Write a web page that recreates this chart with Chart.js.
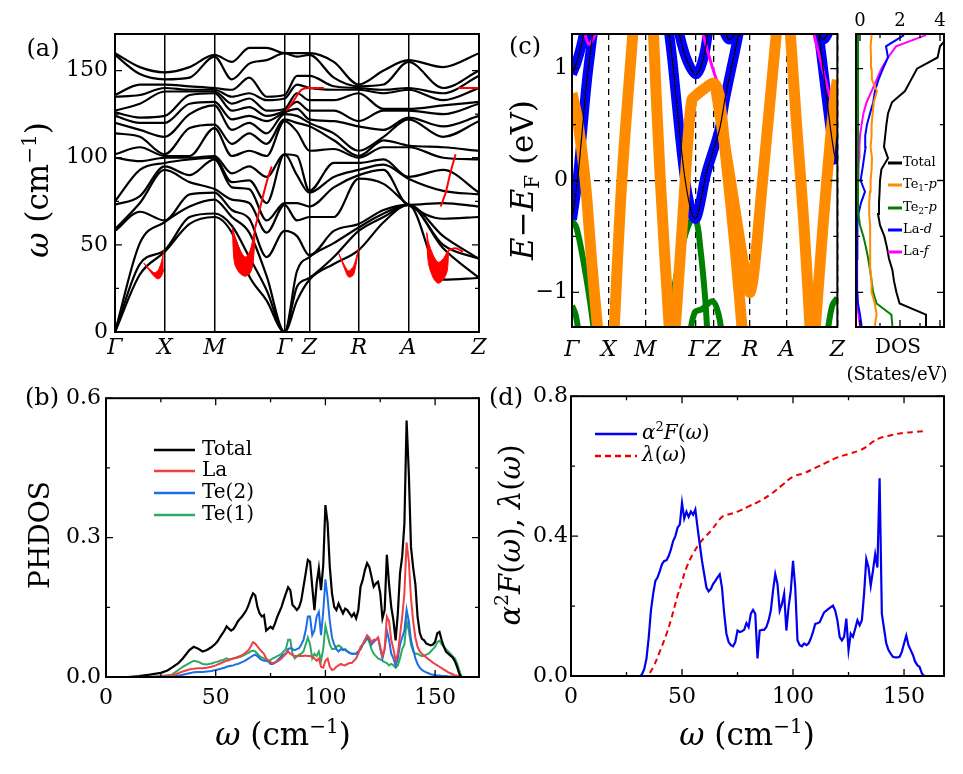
<!DOCTYPE html>
<html>
<head>
<meta charset="utf-8">
<script src="https://cdn.jsdelivr.net/npm/chart.js@4.4.1/dist/chart.umd.min.js"></script>
<style>
  body { margin: 0; background: #fff; width: 963px; height: 774px; position: relative; overflow: hidden; }
  canvas { position: absolute; }
</style>
</head>
<body>
<canvas id="pa" width="490" height="380" style="left:0;top:0"></canvas>
<canvas id="pc" width="375" height="390" style="left:480px;top:0"></canvas>
<canvas id="pdos" width="133" height="390" style="left:830px;top:0"></canvas>
<canvas id="pb" width="490" height="394" style="left:0;top:380px"></canvas>
<canvas id="pd" width="483" height="394" style="left:480px;top:380px"></canvas>
<script>
const SERIF = '"DejaVu Serif", "Liberation Serif", serif';

// (a) phonon dispersion, frequencies in cm^-1 read at these path positions
const kA = [0, 0.5, 1, 1.5, 2, 2.35, 2.7, 3.05, 3.41, 3.66, 3.91, 4.4, 4.9, 5.4, 5.9, 6.6, 7.32];
const kTicksA = [0, 1, 2, 3.41, 3.91, 4.9, 5.9, 7.32];
const kNames = ['Γ', 'X', 'M', 'Γ', 'Z', 'R', 'A', 'Z'];
const phononBranches = [
  [0, 33, 46, 62, 66, 57, 32, 18, 0, 18, 30, 39, 47, 63, 73, 30, 31],
  [0, 39, 47, 66, 68, 61, 43, 24, 0, 26, 31, 43, 58, 66, 73, 48, 31],
  [0, 51, 63, 72, 76, 66, 57, 32, 0, 35, 43, 51, 60, 68, 73, 50, 42],
  [58, 69, 64, 79, 80, 70, 65, 43, 58, 55, 44, 58, 62, 70, 73, 55, 42],
  [59, 74, 93, 86, 82, 76, 74, 57, 73, 64, 66, 66, 88, 85, 73, 65, 66],
  [73, 78, 95, 90, 99, 83, 82, 64, 74, 74, 72, 83, 90, 93, 73, 74, 72],
  [75, 93, 97, 99, 100, 86, 87, 74, 102, 90, 80, 89, 93, 96, 88, 81, 79],
  [100, 98, 100, 100, 101, 91, 95, 89, 102, 101, 81, 97, 97, 99, 89, 93, 80],
  [102, 106, 101, 101, 117, 101, 104, 101, 121, 115, 104, 105, 100, 106, 106, 100, 99],
  [114, 112, 102, 117, 119, 108, 114, 108, 122, 120, 118, 110, 101, 110, 107, 106, 104],
  [120, 116, 112, 125, 130, 116, 120, 114, 125, 124, 120, 114, 104, 112, 122, 112, 121],
  [124, 120, 120, 131, 132, 122, 124, 121, 126, 128, 122, 121, 118, 116, 123, 118, 124],
  [126, 123, 124, 136, 137, 127, 129, 124, 127, 132, 127, 127, 121, 127, 127, 125, 131],
  [127, 131, 138, 138, 138, 131, 134, 127, 128, 137, 133, 133, 137, 128, 128, 130, 132],
  [135, 136, 140, 139, 139, 135, 137, 133, 134, 142, 140, 139, 139, 137, 139, 133, 140],
  [136, 142, 142, 141, 140, 139, 146, 135, 136, 147, 147, 141, 140, 139, 140, 137, 147],
  [159, 148, 145, 146, 158, 145, 154, 156, 160, 158, 159, 146, 141, 142, 155, 140, 150],
  [160, 152, 149, 152, 159, 155, 163, 163, 160, 160, 160, 155, 142, 150, 156, 152, 160]
];
// red electron-phonon weights (soft-mode pockets)
const sail1K = [0.58, 0.7, 0.8, 0.88, 0.95, 0.98];
const sail1Lo = [39.5, 35, 31.5, 30.5, 33, 36];
const sail1Hi = [39.5, 36, 34, 36, 42, 47];
const sail2K = [2.36, 2.4, 2.5, 2.62, 2.72, 2.78, 2.82];
const sail2Lo = [60, 40, 34, 32, 34, 40, 60];
const sail2Hi = [60, 56, 48, 43, 47, 55, 60];
const sail3K = [4.5, 4.62, 4.7, 4.8, 4.9];
const sail3Lo = [45, 36, 31.5, 33, 48];
const sail3Hi = [45, 38, 35, 38, 48];
const sail4K = [6.27, 6.3, 6.4, 6.5, 6.6, 6.68, 6.71];
const sail4Lo = [57, 40, 31, 28, 30, 35, 47];
const sail4Hi = [57, 52, 44, 40, 42, 46, 47];
const redTraces = [
  [[3.45, 127], [3.6, 133], [3.75, 139], [3.91, 140], [4.2, 140]],
  [[6.9, 140], [7.1, 140], [7.32, 140]],
  [[6.71, 47], [6.85, 48], [7.0, 46]],
  [[2.82, 60], [2.95, 75], [3.06, 87], [3.15, 95]],
  [[6.55, 72], [6.65, 80], [6.75, 92], [6.85, 102]]
];

// (c) electronic fat bands, [k, E-EF in eV]
const kTicksC = [0, 1, 2, 3.38, 3.86, 4.86, 5.86, 7.24];
const orangeBands = [
  [[0, 0.78], [0.15, 0.55], [0.36, 0], [0.54, -0.74], [0.72, -1.4]],
  [[1.14, -1.4], [1.36, 0], [1.68, 1.4]],
  [[2.21, 1.4], [2.41, 0], [2.67, -1.4]],
  [[2.8, -1.4], [3.0, -0.45], [3.15, 0.3], [3.27, 0.72], [3.38, 0.76], [3.61, 0.82], [3.86, 0.87], [4.0, 0.78], [4.2, 0.2], [4.45, -0.6], [4.66, -1.4]],
  [[3.91, 0.85], [4.37, -0.1], [4.76, -0.9], [4.86, -1.0], [4.97, -0.8], [5.2, 0], [5.6, 1.4]],
  [[5.94, 1.4], [6.15, 0.4], [6.33, -0.4], [6.51, -1.4]],
  [[6.62, -1.4], [6.85, -0.4], [7.06, 0.4], [7.19, 0.8], [7.24, 0.9]]
];
const blueBands = [
  [[0, -0.35], [0.15, 0], [0.28, 0.45], [0.41, 0.9], [0.54, 1.25], [0.6, 1.4]],
  [[0, 0.95], [0.12, 1.05], [0.25, 1.2], [0.38, 1.4]],
  [[2.62, 1.4], [2.75, 1.04], [2.93, 0.45], [3.09, 0], [3.27, -0.3], [3.38, -0.34], [3.5, -0.2], [3.66, 0.06], [4.02, 0.45], [4.18, 0.74], [4.45, 1.16], [4.6, 1.4]],
  [[2.86, 1.4], [3.11, 1.1], [3.38, 0.95], [3.59, 1.1], [3.74, 1.4]],
  [[6.7, 1.4], [6.85, 1.0], [7.0, 0.6], [7.15, 0.25], [7.24, 0.15]],
  [[4.06, 1.4], [4.3, 1.26], [4.55, 1.4]],
  [[6.6, 1.4], [6.85, 1.26], [7.1, 1.4]]
];
const magentaBands = [
  [[0.3, 1.4], [0.45, 1.22], [0.6, 1.28], [0.75, 1.4]],
  [[3.5, 1.4], [3.75, 1.1], [4.0, 0.85], [4.19, 0.74]],
  [[6.53, 1.4], [6.8, 1.05], [7.05, 0.74], [7.24, 0.6]]
];
const greenBands = [
  [[0, -0.36], [0.12, -0.42], [0.3, -0.7], [0.5, -1.1], [0.62, -1.4]],
  [[2.6, -1.4], [2.75, -1.04], [3.0, -0.6], [3.22, -0.37], [3.38, -0.35], [3.5, -0.6], [3.63, -1.04], [3.7, -1.4]],
  [[3.2, -1.4], [3.35, -1.18], [3.55, -1.15], [3.84, -1.08], [4.0, -1.2], [4.1, -1.4]],
  [[0, -1.12], [0.1, -1.2], [0.2, -1.4]],
  [[6.95, -1.4], [7.1, -1.12], [7.24, -1.05]]
];

// (c) DOS, states/eV on the energy grid
const dosE = [-1.3, -1.2, -1.1, -1.0, -0.9, -0.8, -0.7, -0.6, -0.5, -0.4, -0.3, -0.2, -0.1, 0, 0.1, 0.2, 0.3, 0.4, 0.5, 0.6, 0.7, 0.8, 0.9, 1.0, 1.1, 1.2, 1.3];
const dosTotal = [3.34, 3.3, 1.98, 1.82, 1.7, 1.62, 1.45, 1.35, 1.22, 1.0, 0.9, 0.95, 0.98, 1.0, 1.07, 1.4, 1.2, 1.26, 1.32, 1.4, 1.6, 2.25, 2.55, 2.85, 3.88, 4.0, 4.5];
const dosTe1p = [0.74, 0.83, 0.74, 0.58, 0.58, 0.53, 0.53, 0.5, 0.5, 0.5, 0.46, 0.46, 0.5, 0.53, 0.58, 0.6, 0.53, 0.58, 0.58, 0.63, 0.69, 0.85, 0.6, 0.58, 0.55, 0.53, 0.58];
const dosTe2p = [1.62, 1.57, 0.83, 0.66, 0.58, 0.5, 0.41, 0.3, 0.17, 0.0, -0.08, -0.1, -0.1, -0.1, -0.1, -0.1, -0.1, -0.1, -0.1, -0.1, -0.1, -0.1, -0.1, -0.1, -0.1, -0.09, -0.08];
const dosLad = [0.08, 0.0, -0.1, -0.13, -0.15, -0.16, -0.15, -0.15, -0.13, -0.12, -0.08, 0.05, 0.25, 0.03, 0.12, 0.2, 0.28, 0.26, 0.35, 0.5, 0.66, 0.75, 0.92, 1.15, 1.4, 1.3, 2.2];
const dosLaf = [0.0, -0.08, -0.13, -0.15, -0.15, -0.15, -0.15, -0.15, -0.15, -0.15, -0.13, -0.12, -0.12, -0.1, -0.08, -0.05, -0.03, 0.0, 0.08, 0.17, 0.33, 0.58, 0.83, 1.07, 1.4, 1.8, 3.3];

// (b) phonon DOS
const omegaB = [0, 5, 10, 15, 20, 25, 28, 30, 33, 35, 38, 40, 42, 44, 46, 48,
  50, 51, 52, 53, 54, 55, 56, 57, 58, 59, 60, 61, 62, 63, 64, 65, 66, 67, 68, 69,
  70, 71, 72, 73, 74, 75, 76, 77, 78, 79, 80, 81, 82, 83, 84, 85, 86, 87, 88, 89,
  90, 91, 92, 93, 94, 95, 96, 97, 98, 99, 100, 101, 102, 103, 104, 105, 106, 107, 108, 109,
  110, 111, 112, 113, 114, 115, 116, 117, 118, 119, 120, 121, 122, 123, 124, 125, 126, 127, 128, 129,
  130, 131, 132, 133, 134, 135, 136, 137, 138, 139, 140, 141, 142, 143, 144, 145, 146, 147, 148, 149,
  150, 151, 152, 153, 154, 155, 156, 157, 158, 159, 160, 161, 162];
const phdosTotal = [0, 0, 0, 0.002, 0.005, 0.009, 0.014, 0.02, 0.03, 0.04, 0.058, 0.065, 0.061, 0.055, 0.058, 0.064,
  0.072, 0.078, 0.086, 0.093, 0.1, 0.109, 0.104, 0.1, 0.103, 0.11,
  0.119, 0.125, 0.13, 0.137, 0.144, 0.155, 0.169, 0.18, 0.176, 0.151,
  0.137, 0.13, 0.133, 0.1, 0.104, 0.108, 0.104, 0.115, 0.129, 0.14,
  0.151, 0.166, 0.18, 0.193, 0.187, 0.155, 0.15, 0.144, 0.15, 0.165,
  0.194, 0.223, 0.252, 0.248, 0.194, 0.144, 0.201, 0.234, 0.187, 0.24,
  0.37, 0.331, 0.237, 0.18, 0.151, 0.144, 0.158, 0.147, 0.137, 0.147,
  0.144, 0.137, 0.13, 0.137, 0.126, 0.144, 0.194, 0.209, 0.23, 0.245,
  0.237, 0.216, 0.194, 0.201, 0.205, 0.18, 0.126, 0.144, 0.263, 0.2,
  0.151, 0.122, 0.079, 0.137, 0.223, 0.26, 0.33, 0.552, 0.44, 0.28,
  0.235, 0.2, 0.13, 0.095, 0.082, 0.079, 0.072, 0.07, 0.068, 0.07,
  0.076, 0.094, 0.097, 0.079, 0.065, 0.054, 0.05, 0.046, 0.042, 0.034,
  0.022, 0.007, 0];
const phdosLa = [0, 0, 0, 0, 0, 0.001, 0.002, 0.003, 0.008, 0.012, 0.016, 0.018, 0.019, 0.019, 0.02, 0.022,
  0.025, 0.027, 0.029, 0.031, 0.033, 0.035, 0.036, 0.038, 0.04, 0.041,
  0.043, 0.045, 0.047, 0.05, 0.054, 0.058, 0.066, 0.075, 0.072, 0.066,
  0.06, 0.055, 0.05, 0.04, 0.035, 0.032, 0.03, 0.031, 0.033, 0.036,
  0.04, 0.045, 0.05, 0.055, 0.05, 0.047, 0.045, 0.045, 0.045, 0.045,
  0.045, 0.046, 0.045, 0.045, 0.044, 0.04, 0.035, 0.04, 0.022, 0.02,
  0.035, 0.04, 0.022, 0.015, 0.017, 0.022, 0.025, 0.028, 0.026, 0.025,
  0.028, 0.03, 0.03, 0.035, 0.04, 0.05, 0.065, 0.07, 0.08, 0.09,
  0.085, 0.075, 0.08, 0.08, 0.085, 0.065, 0.045, 0.06, 0.13, 0.12,
  0.08, 0.06, 0.035, 0.05, 0.09, 0.13, 0.18, 0.29, 0.25, 0.17,
  0.12, 0.085, 0.065, 0.055, 0.05, 0.046, 0.042, 0.038, 0.035, 0.031,
  0.028, 0.025, 0.022, 0.019, 0.016, 0.013, 0.01, 0.008, 0.006, 0.004,
  0.003, 0.001, 0];
const phdosTe2 = [0, 0, 0, 0, 0, 0, 0.001, 0.002, 0.003, 0.005, 0.008, 0.01, 0.011, 0.011, 0.012, 0.013,
  0.015, 0.016, 0.017, 0.019, 0.02, 0.022, 0.023, 0.024, 0.025, 0.027,
  0.028, 0.03, 0.032, 0.034, 0.037, 0.04, 0.043, 0.046, 0.048, 0.045,
  0.04, 0.037, 0.035, 0.035, 0.033, 0.028, 0.028, 0.031, 0.035, 0.04,
  0.045, 0.048, 0.05, 0.06, 0.062, 0.06, 0.058, 0.06, 0.062, 0.07,
  0.08, 0.1, 0.13, 0.13, 0.09, 0.1, 0.13, 0.14, 0.09, 0.14,
  0.21, 0.17, 0.12, 0.085, 0.07, 0.06, 0.055, 0.06, 0.058, 0.06,
  0.055, 0.052, 0.05, 0.05, 0.05, 0.055, 0.06, 0.07, 0.075, 0.085,
  0.08, 0.07, 0.075, 0.08, 0.085, 0.06, 0.04, 0.06, 0.1, 0.08,
  0.05, 0.04, 0.025, 0.04, 0.07, 0.085, 0.1, 0.145, 0.12, 0.08,
  0.06, 0.04, 0.028, 0.02, 0.015, 0.012, 0.01, 0.008, 0.006, 0.005,
  0.004, 0.003, 0.003, 0.002, 0.002, 0.002, 0.001, 0.001, 0.001, 0,
  0, 0, 0];
const phdosTe1 = [0, 0, 0, 0, 0, 0.002, 0.004, 0.005, 0.015, 0.022, 0.03, 0.035, 0.033, 0.028, 0.027, 0.029,
  0.032, 0.033, 0.035, 0.036, 0.038, 0.04, 0.038, 0.039, 0.04, 0.041,
  0.042, 0.043, 0.045, 0.047, 0.05, 0.052, 0.055, 0.057, 0.055, 0.05,
  0.045, 0.042, 0.04, 0.037, 0.035, 0.037, 0.04, 0.042, 0.045, 0.047,
  0.05, 0.055, 0.06, 0.08, 0.08, 0.05, 0.04, 0.044, 0.048, 0.05,
  0.055, 0.07, 0.085, 0.07, 0.04, 0.05, 0.045, 0.055, 0.035, 0.06,
  0.11, 0.09, 0.07, 0.06, 0.06, 0.065, 0.068, 0.065, 0.06, 0.058,
  0.055, 0.052, 0.05, 0.05, 0.05, 0.055, 0.06, 0.07, 0.08, 0.085,
  0.075, 0.06, 0.05, 0.045, 0.04, 0.038, 0.035, 0.032, 0.03, 0.025,
  0.028, 0.025, 0.02, 0.025, 0.04, 0.06, 0.07, 0.12, 0.1, 0.07,
  0.055, 0.05, 0.05, 0.047, 0.045, 0.046, 0.048, 0.05, 0.055, 0.06,
  0.065, 0.075, 0.078, 0.07, 0.065, 0.06, 0.055, 0.05, 0.045, 0.04,
  0.03, 0.015, 0];

// (d) Eliashberg function and cumulative coupling
const omegaD = [0, 30, 31, 32, 33, 34, 35, 36, 37, 38, 39, 40, 41, 42, 43, 44, 45, 46, 47, 48, 49,
  50, 51, 52, 53, 54, 55, 56, 57, 58, 59, 60, 61, 62, 63, 64, 65, 66, 67, 68, 69,
  70, 71, 72, 73, 74, 75, 76, 77, 78, 79, 80, 81, 82, 83, 84, 85, 86, 87, 88, 89,
  90, 91, 92, 93, 94, 95, 96, 97, 98, 99, 100, 101, 102, 103, 104, 105, 106, 107, 108, 109,
  110, 111, 112, 113, 114, 115, 116, 117, 118, 119, 120, 121, 122, 123, 124, 125, 126, 127, 128, 129,
  130, 131, 132, 133, 134, 135, 136, 137, 138, 139, 140, 141, 142, 143, 144, 145, 146, 147, 148, 149,
  150, 151, 152, 153, 154, 155, 156, 157, 158, 159, 160, 161, 162];
const a2F = [0, 0, 0, 0.005, 0.02, 0.05, 0.11, 0.187, 0.235, 0.272, 0.282,
  0.3, 0.32, 0.329, 0.331, 0.343, 0.362, 0.386, 0.4, 0.424, 0.433,
  0.495, 0.45, 0.47, 0.455, 0.47, 0.461, 0.476, 0.424, 0.376, 0.329,
  0.291, 0.253, 0.242, 0.249, 0.263, 0.272, 0.282, 0.291, 0.253, 0.178,
  0.121, 0.097, 0.088, 0.085, 0.097, 0.13, 0.126, 0.128, 0.132, 0.151,
  0.14, 0.178, 0.189, 0.178, 0.05, 0.13, 0.132, 0.132, 0.14, 0.159,
  0.187, 0.244, 0.291, 0.263, 0.187, 0.206, 0.235, 0.13, 0.197, 0.244,
  0.329, 0.253, 0.102, 0.088, 0.085, 0.093, 0.088, 0.093, 0.107, 0.126,
  0.149, 0.151, 0.154, 0.168, 0.182, 0.187, 0.192, 0.197, 0.201, 0.187,
  0.159, 0.112, 0.102, 0.112, 0.164, 0.074, 0.121, 0.112, 0.135, 0.159,
  0.145, 0.159, 0.235, 0.334, 0.31, 0.258, 0.301, 0.348, 0.31, 0.565,
  0.178, 0.135, 0.093, 0.074, 0.064, 0.055, 0.053, 0.053, 0.055, 0.069,
  0.093, 0.116, 0.088, 0.074, 0.06, 0.041, 0.031, 0.026, 0.008, 0,
  0, 0, 0];
const omegaL = [0, 34, 35, 37, 40, 43, 45, 48, 50, 52, 55, 58, 60, 63, 66, 68, 70, 75, 80, 85, 90, 95, 100, 105, 110, 115, 120, 125, 130, 133, 136, 139, 142, 145, 150, 155, 159];
const lambdaW = [0, 0, 0.005, 0.025, 0.07, 0.12, 0.16, 0.23, 0.27, 0.31, 0.35, 0.38, 0.395, 0.415, 0.44, 0.455, 0.46, 0.47, 0.485, 0.5, 0.52, 0.545, 0.57, 0.58, 0.595, 0.61, 0.625, 0.635, 0.645, 0.655, 0.67, 0.68, 0.685, 0.69, 0.695, 0.698, 0.7];

// ---------- helpers ----------
function lineSet(xs, ys, color, width, extra) {
  return Object.assign({
    data: ys.map((y, i) => ({ x: xs[i], y: y })),
    borderColor: color, borderWidth: width, pointRadius: 0, fill: false, tension: 0
  }, extra || {});
}
function pairSet(pts, color, width, extra) {
  return Object.assign({
    data: pts.map(p => ({ x: p[0], y: p[1] })),
    borderColor: color, borderWidth: width, pointRadius: 0, fill: false, tension: 0.35,
    borderCapStyle: 'butt'
  }, extra || {});
}
function axis(o) {
  return {
    type: 'linear', min: o.min, max: o.max, position: o.pos,
    display: o.display !== false,
    afterBuildTicks: s => { s.ticks = o.ticks.map(v => ({ value: v })); },
    afterFit: s => { if (o.size != null) { if (s.isHorizontal()) s.height = o.size; else s.width = o.size; } },
    ticks: {
      autoSkip: false, maxRotation: 0, minRotation: 0, padding: o.pad, color: '#000',
      font: { family: SERIF, size: o.font || 22, style: o.italic ? 'italic' : 'normal' },
      callback: o.fmt || (v => String(v))
    },
    grid: o.grid || { display: false, drawTicks: false },
    border: o.border || { display: false }
  };
}
function drawRich(ctx, it) {
  const base = it.size || 22;
  ctx.save();
  ctx.translate(it.x, it.y);
  if (it.rot) ctx.rotate(it.rot);
  ctx.textBaseline = 'middle';
  ctx.textAlign = 'left';
  ctx.fillStyle = '#000';
  const parts = it.parts.map(p => typeof p === 'string' ? { t: p } : p);
  let w = 0;
  parts.forEach(p => {
    p.font = (p.i ? 'italic ' : '') + Math.round((p.s || 1) * base) + 'px ' + SERIF;
    ctx.font = p.font;
    p.w = ctx.measureText(p.t).width;
    w += p.w;
  });
  let x = it.align === 'left' ? 0 : -w / 2;
  parts.forEach(p => {
    ctx.font = p.font;
    ctx.fillText(p.t, x, (p.dy || 0) * base);
    x += p.w;
  });
  ctx.restore();
}
function decor(cfg) {
  return {
    id: 'decor',
    afterDatasetsDraw(chart) {
      const { ctx, chartArea: a } = chart;
      const xs = chart.scales.x, ys = chart.scales.y;
      ctx.save();
      ctx.strokeStyle = '#000';
      ctx.lineWidth = 1.3;
      const tk = (list, len, isX) => (list || []).forEach(v => {
        ctx.beginPath();
        if (isX) {
          const p = xs.getPixelForValue(v);
          ctx.moveTo(p, a.bottom); ctx.lineTo(p, a.bottom - len);
          ctx.moveTo(p, a.top); ctx.lineTo(p, a.top + len);
        } else {
          const p = ys.getPixelForValue(v);
          ctx.moveTo(a.left, p); ctx.lineTo(a.left + len, p);
          ctx.moveTo(a.right, p); ctx.lineTo(a.right - len, p);
        }
        ctx.stroke();
      });
      tk(cfg.xMajor, 7, true); tk(cfg.xMinor, 4, true);
      tk(cfg.yMajor, 7, false); tk(cfg.yMinor, 4, false);
      ctx.lineWidth = 2;
      ctx.strokeRect(a.left, a.top, a.right - a.left, a.bottom - a.top);
      ctx.restore();
    },
    afterDraw(chart) {
      const ctx = chart.ctx;
      (cfg.lines || []).forEach(l => {
        ctx.save();
        ctx.strokeStyle = l.color; ctx.lineWidth = l.width;
        ctx.setLineDash(l.dash || []);
        ctx.beginPath(); ctx.moveTo(l.x1, l.y); ctx.lineTo(l.x2, l.y); ctx.stroke();
        ctx.restore();
      });
      (cfg.texts || []).forEach(t => drawRich(ctx, t));
    }
  };
}
function makeChart(id, datasets, scales, padding, deco, extra) {
  return new Chart(document.getElementById(id), {
    type: 'line',
    data: { datasets: datasets },
    options: Object.assign({
      responsive: false, animation: false, devicePixelRatio: 1, events: [],
      layout: { padding: padding },
      plugins: { legend: { display: false }, tooltip: { enabled: false } },
      scales: scales
    }, extra || {}),
    plugins: [decor(deco)]
  });
}
const OMEGA_T = [{ t: 'ω', i: true }, ' (cm', { t: '−1', s: 0.65, dy: -0.3 }, ')'];

// ---------- (a) ----------
const setsA = [];
[[sail1K, sail1Lo, sail1Hi], [sail2K, sail2Lo, sail2Hi], [sail3K, sail3Lo, sail3Hi], [sail4K, sail4Lo, sail4Hi]].forEach(s => {
  setsA.push(lineSet(s[0], s[1], '#ff0000', 1, { tension: 0.3 }));
  setsA.push(lineSet(s[0], s[2], '#ff0000', 1, { tension: 0.3, fill: '-1', backgroundColor: '#ff0000' }));
});
redTraces.forEach(r => setsA.push(pairSet(r, '#ff0000', 2, { tension: 0.3 })));
phononBranches.forEach(b => setsA.push(lineSet(kA, b, '#000', 2.2, { cubicInterpolationMode: 'monotone' })));
makeChart('pa', setsA, {
  x: axis({ min: 0, max: 7.32, ticks: kTicksA, size: 48, pad: 3, italic: true, fmt: (v, i) => kNames[i],
    grid: { display: true, drawTicks: false, color: '#000', lineWidth: 1.5 } }),
  y: axis({ min: 0, max: 171, ticks: [0, 50, 100, 150], size: 115, pad: 7 })
}, { left: 0, top: 34, right: 11, bottom: 0 }, {
  yMajor: [0, 50, 100, 150], yMinor: [25, 75, 125],
  texts: [
    { x: 43, y: 50, size: 24, parts: ['(a)'] },
    { x: 40, y: 190, size: 31, rot: -Math.PI / 2, parts: OMEGA_T }
  ]
});

// ---------- (c) ----------
const setsC = [];
blueBands.forEach(b => {
  setsC.push(pairSet(b, '#000', 1.2, { order: 0 }));
  setsC.push(pairSet(b, '#ff8c00', 1, { order: 0, borderDash: [1, 2] }));
});
orangeBands.forEach(b => setsC.push(pairSet(b, '#ff8c00', 11, { order: 1 })));
magentaBands.forEach(b => setsC.push(pairSet(b, '#ff00ff', 3, { order: 2 })));
blueBands.forEach(b => setsC.push(pairSet(b, '#0000ff', 10, { order: 3 })));
greenBands.forEach(b => setsC.push(pairSet(b, '#008000', 6, { order: 4 })));
makeChart('pc', setsC, {
  x: axis({ min: 0, max: 7.24, ticks: kTicksC, size: 63, pad: 10, italic: true, fmt: (v, i) => kNames[i],
    grid: { display: true, drawTicks: false, color: '#000', lineWidth: 1.3 },
    border: { display: false, dash: [6, 5] } }),
  y: axis({ min: -1.31, max: 1.31, ticks: [-1, 0, 1], size: 92, pad: 4,
    fmt: v => (v < 0 ? '−' + Math.abs(v) : String(v)),
    grid: { display: true, drawTicks: false, lineWidth: 1.2,
      color: c => (c.tick && c.tick.value === 0 ? '#000' : 'rgba(0,0,0,0)') },
    border: { display: false, dash: [6, 5] } })
}, { left: 0, top: 34, right: 5, bottom: 0 }, {
  yMajor: [-1, 0, 1], yMinor: [-0.5, 0.5],
  texts: [
    { x: 45, y: 48, size: 24, parts: ['(c)'] },
    { x: 45, y: 180, size: 31, rot: -Math.PI / 2,
      parts: [{ t: 'E', i: true }, '−', { t: 'E', i: true }, { t: 'F', s: 0.65, dy: 0.28 }, ' (eV)'] }
  ]
});

// ---------- DOS ----------
makeChart('pdos', [
  lineSet(dosTotal, dosE, '#000', 2),
  lineSet(dosTe1p, dosE, '#ff8c00', 2),
  lineSet(dosTe2p, dosE, '#008000', 2),
  lineSet(dosLad, dosE, '#0000ff', 2),
  lineSet(dosLaf, dosE, '#ff00ff', 2)
], {
  x: axis({ min: -0.2, max: 4.2, ticks: [0, 2, 4], pos: 'top', size: 34, pad: 2, font: 18 }),
  y: axis({ min: -1.31, max: 1.31, ticks: [-1, 0, 1], display: false })
}, { left: 26, top: 0, right: 19, bottom: 63 }, {
  xMajor: [0, 2, 4], xMinor: [1, 3], yMajor: [-1, 0, 1], yMinor: [-0.5, 0.5],
  lines: [
    { x1: 58, x2: 72, y: 163, color: '#000', width: 3 },
    { x1: 58, x2: 72, y: 185, color: '#ff8c00', width: 3 },
    { x1: 58, x2: 72, y: 208, color: '#008000', width: 3 },
    { x1: 58, x2: 72, y: 230, color: '#0000ff', width: 3 },
    { x1: 58, x2: 72, y: 252, color: '#ff00ff', width: 3 }
  ],
  texts: [
    { x: 73, y: 163, size: 13, align: 'left', parts: ['Total'] },
    { x: 73, y: 185, size: 13, align: 'left', parts: ['Te', { t: '1', s: 0.7, dy: 0.25 }, '-', { t: 'p', i: true }] },
    { x: 73, y: 208, size: 13, align: 'left', parts: ['Te', { t: '2', s: 0.7, dy: 0.25 }, '-', { t: 'p', i: true }] },
    { x: 73, y: 230, size: 13, align: 'left', parts: ['La-', { t: 'd', i: true }] },
    { x: 73, y: 252, size: 13, align: 'left', parts: ['La-', { t: 'f', i: true }] },
    { x: 68, y: 348, size: 20, parts: ['DOS'] },
    { x: 67, y: 375, size: 18, parts: ['(States/eV)'] }
  ]
}, { indexAxis: 'y' });

// ---------- (b) ----------
makeChart('pb', [
  lineSet(omegaB, phdosTotal, '#000', 2.2, { order: 0 }),
  lineSet(omegaB, phdosLa, '#f04040', 2, { order: 1 }),
  lineSet(omegaB, phdosTe2, '#1a6ee6', 2, { order: 2 }),
  lineSet(omegaB, phdosTe1, '#2ea862', 2, { order: 3 })
], {
  x: axis({ min: 0, max: 170, ticks: [0, 50, 100, 150], size: 97, pad: 8 }),
  y: axis({ min: 0, max: 0.6, ticks: [0, 0.3, 0.6], size: 106, pad: 5, fmt: v => v.toFixed(1) })
}, { left: 0, top: 18, right: 11, bottom: 0 }, {
  xMajor: [0, 50, 100, 150], xMinor: [25, 75, 125], yMajor: [0, 0.3, 0.6], yMinor: [0.15, 0.45],
  lines: [
    { x1: 154, x2: 195, y: 70, color: '#000', width: 2.5 },
    { x1: 154, x2: 195, y: 91, color: '#f04040', width: 2.5 },
    { x1: 154, x2: 195, y: 113, color: '#1a6ee6', width: 2.5 },
    { x1: 154, x2: 195, y: 135, color: '#2ea862', width: 2.5 }
  ],
  texts: [
    { x: 202, y: 70, size: 20, align: 'left', parts: ['Total'] },
    { x: 202, y: 91, size: 20, align: 'left', parts: ['La'] },
    { x: 202, y: 113, size: 20, align: 'left', parts: ['Te(2)'] },
    { x: 202, y: 135, size: 20, align: 'left', parts: ['Te(1)'] },
    { x: 42, y: 19, size: 24, parts: ['(b)'] },
    { x: 42, y: 155, size: 28, rot: -Math.PI / 2, parts: ['PHDOS'] },
    { x: 283, y: 357, size: 31, parts: OMEGA_T }
  ]
});

// ---------- (d) ----------
makeChart('pd', [
  lineSet(omegaD, a2F, '#0000ee', 2.2, { order: 0 }),
  lineSet(omegaL, lambdaW, '#ee0000', 2, { order: 1, borderDash: [6, 4], tension: 0.4 })
], {
  x: axis({ min: 0, max: 168, ticks: [0, 50, 100, 150], size: 98, pad: 8 }),
  y: axis({ min: 0, max: 0.8, ticks: [0, 0.4, 0.8], size: 91, pad: 3, fmt: v => v.toFixed(1) })
}, { left: 0, top: 14, right: 19, bottom: 0 }, {
  xMajor: [0, 50, 100, 150], xMinor: [25, 75, 125], yMajor: [0, 0.4, 0.8], yMinor: [0.2, 0.6],
  lines: [
    { x1: 115, x2: 157, y: 54, color: '#0000ee', width: 2.5 },
    { x1: 115, x2: 157, y: 76, color: '#ee0000', width: 2.5, dash: [6, 4] }
  ],
  texts: [
    { x: 162, y: 54, size: 20, align: 'left',
      parts: [{ t: 'α', i: true }, { t: '2', s: 0.65, dy: -0.3 }, { t: 'F', i: true }, '(', { t: 'ω', i: true }, ')'] },
    { x: 162, y: 76, size: 20, align: 'left', parts: [{ t: 'λ', i: true }, '(', { t: 'ω', i: true }, ')'] },
    { x: 26, y: 19, size: 24, parts: ['(d)'] },
    { x: 32, y: 155, size: 29, rot: -Math.PI / 2,
      parts: [{ t: 'α', i: true }, { t: '2', s: 0.65, dy: -0.3 }, { t: 'F', i: true }, '(', { t: 'ω', i: true }, '), ',
        { t: 'λ', i: true }, '(', { t: 'ω', i: true }, ')'] },
    { x: 267, y: 357, size: 31, parts: OMEGA_T }
  ]
});
</script>
</body>
</html>
